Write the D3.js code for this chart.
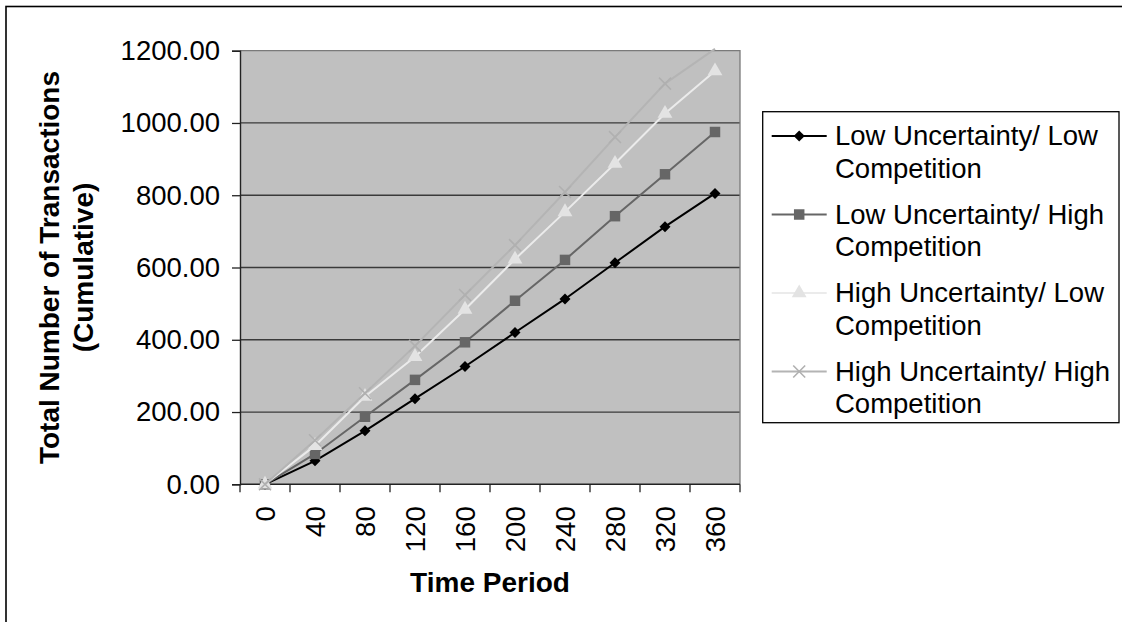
<!DOCTYPE html>
<html>
<head>
<meta charset="utf-8">
<script src="https://cdn.jsdelivr.net/npm/d3@7"></script>
<style>
  html, body { margin: 0; padding: 0; background: #fff; }
  svg { display: block; }
  text { font-family: "Liberation Sans", Arial, sans-serif; fill: #000; }
</style>
</head>
<body>
<svg id="chart" width="1122" height="622"></svg>
<script>
// Time periods along the category axis
const periods = ["0", "40", "80", "120", "160", "200", "240", "280", "320", "360"];

// Cumulative transactions for each scenario
const lowUncLowComp   = [0, 65, 148, 237, 326, 420, 513, 613, 713, 805];
const lowUncHighComp  = [0, 84, 187, 289, 393, 508, 621, 742, 858, 975];
const highUncLowComp  = [0, 107, 243, 353, 484, 623, 754, 888, 1026, 1144];
const highUncHighComp = [0, 122, 252, 383, 524, 662, 809, 961, 1109, 1205];

const seriesNames = [
  ["Low Uncertainty/ Low", "Competition"],
  ["Low Uncertainty/ High", "Competition"],
  ["High Uncertainty/ Low", "Competition"],
  ["High Uncertainty/ High", "Competition"]
];

const yTicks = [0, 200, 400, 600, 800, 1000, 1200];

const series = [
  { name: seriesNames[0], values: lowUncLowComp,   line: "#000000", fill: "#000000", marker: "diamond" },
  { name: seriesNames[1], values: lowUncHighComp,  line: "#666666", fill: "#666666", marker: "square" },
  { name: seriesNames[2], values: highUncLowComp,  line: "#ebebeb", fill: "#e3e3e3", marker: "triangle" },
  { name: seriesNames[3], values: highUncHighComp, line: "#b4b4b4", fill: "#b0b0b0", marker: "cross" }
];

const svg = d3.select("#chart");

// Outer chart frame (runs off the right and bottom edges)
svg.append("rect")
  .attr("x", 6).attr("y", 6.5)
  .attr("width", 1300).attr("height", 800)
  .attr("fill", "none").attr("stroke", "#000").attr("stroke-width", 1.6);

const plot = { left: 240, right: 740, top: 50.7, bottom: 484.3 };

const x = d3.scaleBand().domain(periods).range([plot.left, plot.right]).padding(0);
const y = d3.scaleLinear().domain([0, 1200]).range([plot.bottom, plot.top]);

// Plot area
svg.append("rect")
  .attr("x", plot.left).attr("y", plot.top)
  .attr("width", plot.right - plot.left).attr("height", plot.bottom - plot.top)
  .attr("fill", "#c0c0c0");

// Horizontal gridlines
svg.append("g")
  .selectAll("line")
  .data(yTicks.filter(d => d > 0 && d < 1200))
  .join("line")
  .attr("x1", plot.left).attr("x2", plot.right)
  .attr("y1", d => y(d)).attr("y2", d => y(d))
  .attr("stroke", "#3a3a3a").attr("stroke-width", 1.3);

// Plot border (top and right)
svg.append("path")
  .attr("d", `M${plot.left},${plot.top}H${plot.right}V${plot.bottom}`)
  .attr("fill", "none").attr("stroke", "#7a7a7a").attr("stroke-width", 1.3);

// Y axis
const yAxis = d3.axisLeft(y)
  .tickValues(yTicks)
  .tickFormat(d3.format(".2f"))
  .tickSize(8)
  .tickPadding(12);

const gy = svg.append("g")
  .attr("transform", `translate(${plot.left},0)`)
  .call(yAxis);
gy.select(".domain").attr("stroke", "#222").attr("stroke-width", 1.4);
gy.selectAll(".tick line").attr("stroke", "#222").attr("stroke-width", 1.3);
gy.selectAll(".tick text")
  .attr("font-family", "Liberation Sans, Arial, sans-serif")
  .attr("font-size", 27.5)
  .attr("fill", "#000");

// X axis: labels centred on each category, ticks between categories
const xAxis = d3.axisBottom(x).tickSize(0).tickPadding(0);
const gx = svg.append("g")
  .attr("transform", `translate(0,${plot.bottom})`)
  .call(xAxis);
gx.select(".domain").remove();
gx.selectAll(".tick text")
  .attr("font-family", "Liberation Sans, Arial, sans-serif")
  .attr("font-size", 27.5)
  .attr("fill", "#000")
  .attr("text-anchor", "end")
  .attr("transform", "translate(0,22) rotate(-90)")
  .attr("dx", 0)
  .attr("dy", "0.36em")
  .attr("y", 0);

svg.append("line")
  .attr("x1", plot.left).attr("x2", plot.right)
  .attr("y1", plot.bottom).attr("y2", plot.bottom)
  .attr("stroke", "#222").attr("stroke-width", 1.4);

const boundaries = periods.map(p => x(p)).concat([x.range()[1]]);
svg.append("g")
  .selectAll("line")
  .data(boundaries)
  .join("line")
  .attr("x1", d => d).attr("x2", d => d)
  .attr("y1", plot.bottom).attr("y2", plot.bottom + 8)
  .attr("stroke", "#222").attr("stroke-width", 1.3);

// Axis titles
svg.append("text")
  .attr("x", (plot.left + plot.right) / 2)
  .attr("y", 591.5)
  .attr("text-anchor", "middle")
  .attr("font-size", 28)
  .attr("font-weight", "bold")
  .text("Time Period");

const yTitle = svg.append("text")
  .attr("transform", `translate(0,${(plot.top + plot.bottom) / 2}) rotate(-90)`)
  .attr("text-anchor", "middle")
  .attr("font-size", 28)
  .attr("font-weight", "bold");
yTitle.append("tspan").attr("x", 0).attr("y", 59).text("Total Number of Transactions");
yTitle.append("tspan").attr("x", 0).attr("y", 93).text("(Cumulative)");

// Marker shapes
const markerPath = {
  diamond: d3.symbol().type(d3.symbolDiamond2).size(78),
  square: d3.symbol().type(d3.symbolSquare).size(110),
  triangle: d3.symbol().type(d3.symbolTriangle).size(95),
  cross: d3.symbol().type(d3.symbolX).size(95)
};

function drawMarker(g, s, cx, cy) {
  const p = g.append("path")
    .attr("transform", `translate(${cx},${cy})`)
    .attr("d", markerPath[s.marker]());
  if (s.marker === "cross") {
    p.attr("fill", "none").attr("stroke", s.fill).attr("stroke-width", 1.6);
  } else {
    p.attr("fill", s.fill).attr("stroke", "none");
  }
}

const cx = p => x(p) + x.bandwidth() / 2;

const line = d3.line()
  .x((d, i) => cx(periods[i]))
  .y(d => y(d));

// Series lines and markers
series.forEach(s => {
  const g = svg.append("g");
  g.append("path")
    .datum(s.values)
    .attr("d", line)
    .attr("fill", "none")
    .attr("stroke", s.line)
    .attr("stroke-width", 2);
  s.values.forEach((v, i) => {
    if (v <= 1200) drawMarker(g, s, cx(periods[i]), y(v));
  });
});

// Legend
const legend = svg.append("g");
legend.append("rect")
  .attr("x", 762.7).attr("y", 111.7)
  .attr("width", 356.3).attr("height", 311)
  .attr("fill", "#fff").attr("stroke", "#000").attr("stroke-width", 1.3);

series.forEach((s, i) => {
  const base = 145 + i * 78.5;
  const my = base - 9;
  legend.append("line")
    .attr("x1", 771.7).attr("x2", 826.7)
    .attr("y1", my).attr("y2", my)
    .attr("stroke", s.line).attr("stroke-width", 2);
  drawMarker(legend, s, 799.2, my);
  const t = legend.append("text")
    .attr("font-size", 27.5);
  t.append("tspan").attr("x", 835).attr("y", base).text(s.name[0]);
  t.append("tspan").attr("x", 835).attr("y", base + 32.5).text(s.name[1]);
});
</script>
</body>
</html>
